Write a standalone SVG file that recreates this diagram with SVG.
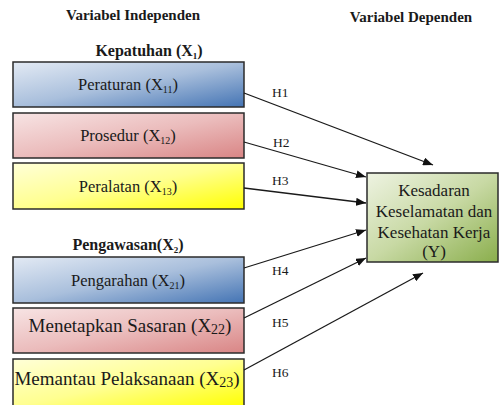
<svg xmlns="http://www.w3.org/2000/svg" width="499" height="405" viewBox="0 0 499 405" font-family="'Liberation Serif', 'DejaVu Serif', serif">
<defs>
<linearGradient id="gBlue" x1="0" y1="0" x2="1" y2="1"><stop offset="0" stop-color="#e3eaf4"/><stop offset="0.5" stop-color="#a9bfdc"/><stop offset="1" stop-color="#4474b4"/></linearGradient>
<linearGradient id="gPink" x1="0" y1="0" x2="1" y2="1"><stop offset="0" stop-color="#f7e4e4"/><stop offset="0.5" stop-color="#ebbcbc"/><stop offset="1" stop-color="#d98585"/></linearGradient>
<linearGradient id="gYellow" x1="0" y1="0" x2="1" y2="1"><stop offset="0" stop-color="#ffffd8"/><stop offset="0.5" stop-color="#ffff90"/><stop offset="1" stop-color="#ffff00"/></linearGradient>
<linearGradient id="gGreen" x1="0" y1="0" x2="1" y2="1"><stop offset="0" stop-color="#eef3e2"/><stop offset="0.5" stop-color="#c8d9a4"/><stop offset="1" stop-color="#8aae4c"/></linearGradient>
<marker id="arr" viewBox="0 0 10 8" refX="10" refY="4" markerWidth="10" markerHeight="8" markerUnits="userSpaceOnUse" orient="auto"><path d="M0,0 L10,4 L0,8 Z" fill="#111"/></marker>
<style>
.box{stroke:#2b2b2b;stroke-width:1.5}
text{font-family:'Liberation Serif','DejaVu Serif',serif}
.t{fill:#1a1a1a;text-anchor:middle}
.h{font-weight:bold;fill:#1a1a1a;text-anchor:middle}
.lbl{font-size:13.5px;fill:#1a1a1a}
.c{stroke:#1a1a1a;stroke-width:1.3;fill:none;marker-end:url(#arr)}
</style>
</defs>
<text class="h" x="133" y="20" font-size="15">Variabel Independen</text>
<text class="h" x="411" y="22" font-size="15">Variabel Dependen</text>
<text class="h" x="149" y="56" font-size="16">Kepatuhan (X<tspan font-size="9" dy="3">1</tspan><tspan dy="-3">)</tspan></text>
<text class="h" x="128" y="250" font-size="16">Pengawasan(X<tspan font-size="9" dy="3">2</tspan><tspan dy="-3">)</tspan></text>
<g id="x11"><rect class="box" x="13" y="62" width="231" height="45" fill="url(#gBlue)"/><text class="t" x="128" y="90" font-size="16.5">Peraturan (X<tspan font-size="10" dy="3">11</tspan><tspan dy="-3">)</tspan></text></g>
<g id="x12"><rect class="box" x="13" y="113" width="231" height="45" fill="url(#gPink)"/><text class="t" x="128" y="141" font-size="16.5">Prosedur (X<tspan font-size="10" dy="3">12</tspan><tspan dy="-3">)</tspan></text></g>
<g id="x13"><rect class="box" x="13" y="163" width="231" height="46" fill="url(#gYellow)"/><text class="t" x="128" y="192" font-size="16.5">Peralatan (X<tspan font-size="10" dy="3">13</tspan><tspan dy="-3">)</tspan></text></g>
<g id="x21"><rect class="box" x="13" y="257" width="231" height="46" fill="url(#gBlue)"/><text class="t" x="128" y="286" font-size="16.5">Pengarahan (X<tspan font-size="10" dy="3">21</tspan><tspan dy="-3">)</tspan></text></g>
<g id="x22"><rect class="box" x="13" y="308" width="231" height="45" fill="url(#gPink)"/><text class="t" x="130" y="332" font-size="19">Menetapkan Sasaran (X<tspan font-size="14" dy="2">22</tspan><tspan dy="-2">)</tspan></text></g>
<g id="x23"><rect class="box" x="13" y="359" width="231" height="48" fill="url(#gYellow)"/><text class="t" x="127" y="385" font-size="19">Memantau Pelaksanaan (X<tspan font-size="14" dy="2">23</tspan><tspan dy="-2">)</tspan></text></g>
<g id="y"><rect class="box" x="367" y="173" width="131" height="89" fill="url(#gGreen)"/>
<text class="t" x="434" y="196" font-size="17">Kesadaran</text>
<text class="t" x="434" y="217" font-size="17">Keselamatan dan</text>
<text class="t" x="434" y="238" font-size="17">Kesehatan Kerja</text>
<text class="t" x="434" y="257" font-size="17">(Y)</text></g>
<g id="connectors">
<line class="c" x1="244" y1="93" x2="433" y2="165"/>
<line class="c" x1="244" y1="142" x2="366" y2="177"/>
<line class="c" x1="244" y1="188" x2="366" y2="203"/>
<line class="c" x1="244" y1="268" x2="366" y2="230"/>
<line class="c" x1="244" y1="318" x2="366" y2="258"/>
<line class="c" x1="244" y1="370" x2="423" y2="273"/>
<text class="lbl" x="272" y="97">H1</text>
<text class="lbl" x="273" y="147">H2</text>
<text class="lbl" x="272" y="185">H3</text>
<text class="lbl" x="272" y="275">H4</text>
<text class="lbl" x="272" y="327">H5</text>
<text class="lbl" x="272" y="377">H6</text>
</g>
</svg>
